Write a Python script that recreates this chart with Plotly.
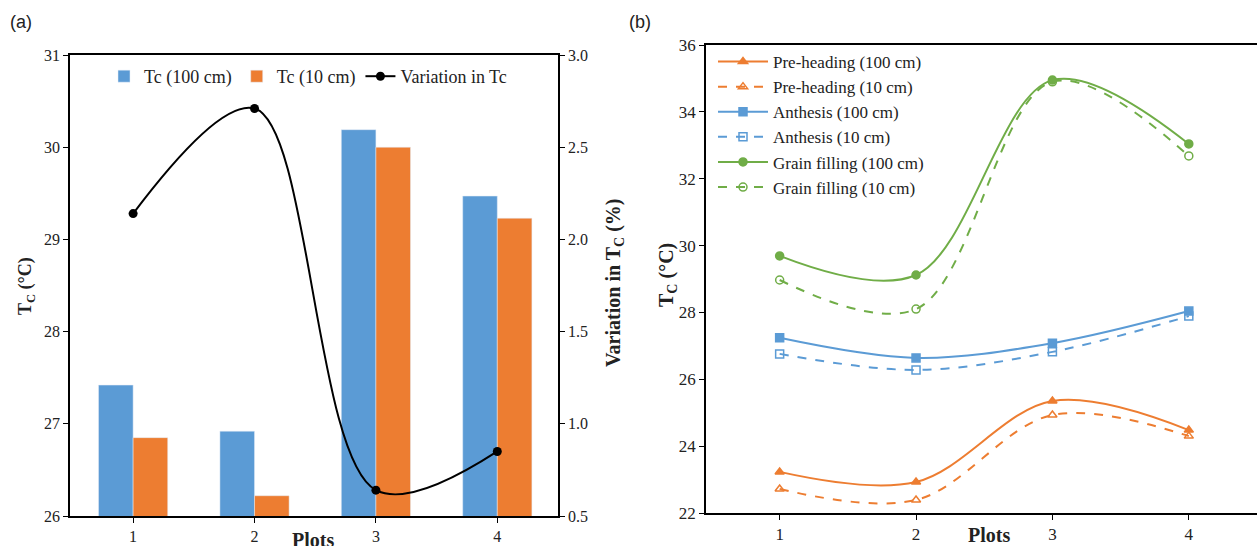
import plotly.graph_objects as go

W, H = 1257, 546

# ---------------- data ----------------
plots = [1, 2, 3, 4]
plot_labels = ["1", "2", "3", "4"]

# panel (a)
tc_100 = [27.42, 26.92, 30.19, 29.47]
tc_10 = [26.85, 26.22, 30.00, 29.23]
variation = [2.14, 2.71, 0.64, 0.85]

# panel (b)
pre_100 = [23.23, 22.93, 25.35, 24.48]
pre_10 = [22.72, 22.39, 24.93, 24.30]
ant_100 = [27.24, 26.64, 27.08, 28.04]
ant_10 = [26.76, 26.28, 26.82, 27.89]
gf_100 = [29.69, 29.12, 34.95, 33.04]
gf_10 = [28.97, 28.10, 34.90, 32.68]

left_ticks_a = [26, 27, 28, 29, 30, 31]
right_ticks_a = [0.5, 1.0, 1.5, 2.0, 2.5, 3.0]
ticks_b = [22, 24, 26, 28, 30, 32, 34, 36]

BLUE = "#5B9BD5"
ORANGE = "#ED7D31"
GREEN = "#70AD47"
SERIF = "Liberation Serif"
SANS = "Liberation Sans"
TICKCOL = "#222222"

def px(x):
    return x / W

def py(y):
    return 1 - y / H

fig = go.Figure()

# ---- panel (a) ----
fig.add_trace(go.Bar(x=plots, y=tc_100, name="Tc (100 cm)", marker_color=BLUE,
                     xaxis="x", yaxis="y", legend="legend"))
fig.add_trace(go.Bar(x=plots, y=tc_10, name="Tc (10 cm)", marker_color=ORANGE,
                     xaxis="x", yaxis="y", legend="legend"))
fig.add_trace(go.Scatter(x=plots, y=variation, name="Variation in Tc",
                         mode="lines+markers",
                         line=dict(color="black", width=2, shape="spline", smoothing=1.0),
                         marker=dict(color="black", size=9),
                         xaxis="x", yaxis="y2", legend="legend"))

# ---- panel (b) ----
series_b = [
    ("Pre-heading (100 cm)", pre_100, ORANGE, "solid", "triangle-up"),
    ("Pre-heading (10 cm)", pre_10, ORANGE, "dash", "triangle-up-open"),
    ("Anthesis (100 cm)", ant_100, BLUE, "solid", "square"),
    ("Anthesis (10 cm)", ant_10, BLUE, "dash", "square-open"),
    ("Grain filling (100 cm)", gf_100, GREEN, "solid", "circle"),
    ("Grain filling (10 cm)", gf_10, GREEN, "dash", "circle-open"),
]
for name, vals, col, dash, sym in series_b:
    fig.add_trace(go.Scatter(x=plots, y=vals, name=name, mode="lines+markers",
                             line=dict(color=col, width=2, dash=dash, shape="spline", smoothing=1.0),
                             marker=dict(color=col, size=8, symbol=sym, line=dict(color=col, width=1.5)),
                             xaxis="x2", yaxis="y3", legend="legend2"))

def axis_common(size):
    return dict(showline=True, linecolor="black", linewidth=1.5, ticks="outside",
                ticklen=5, tickcolor="black", showgrid=False, zeroline=False,
                tickfont=dict(family=SERIF, size=size, color=TICKCOL))

fig.update_layout(
    width=W, height=H,
    margin=dict(l=0, r=0, t=0, b=0, autoexpand=False),
    paper_bgcolor="white", plot_bgcolor="white",
    barmode="group", bargap=0.43, bargroupgap=0,
    xaxis=dict(domain=[px(70), px(558)], range=[0.48, 4.5], anchor="y",
               tickvals=plots, ticktext=plot_labels, mirror=True, **axis_common(16)),
    yaxis=dict(domain=[py(516), py(55)], range=[26, 31], anchor="x",
               tickvals=left_ticks_a, **axis_common(16)),
    yaxis2=dict(overlaying="y", side="right", anchor="x", range=[0.5, 3.0],
                tickvals=right_ticks_a, ticktext=[f"{v:.1f}" for v in right_ticks_a],
                **axis_common(16)),
    xaxis2=dict(domain=[px(706), 1.0], range=[0.46, 4.5], anchor="y3",
                tickvals=plots, ticktext=plot_labels, mirror=True, **axis_common(17)),
    yaxis3=dict(domain=[py(513), py(45)], range=[22, 36], anchor="x2",
                tickvals=ticks_b, **axis_common(17)),
    legend=dict(orientation="h", x=px(104), y=py(58), xanchor="left", yanchor="top",
                font=dict(family=SERIF, size=18, color="#222"), bgcolor="rgba(0,0,0,0)",
                itemwidth=30),
    legend2=dict(orientation="v", x=px(713), y=py(44), xanchor="left", yanchor="top",
                 font=dict(family=SERIF, size=17, color="#222"), bgcolor="rgba(0,0,0,0)",
                 itemwidth=50, tracegroupgap=0),
    showlegend=True,
)

annotations = [
    dict(text="(a)", x=px(8), y=py(22), xanchor="left", yanchor="middle",
         font=dict(family=SANS, size=18, color="#222")),
    dict(text="(b)", x=px(627), y=py(22), xanchor="left", yanchor="middle",
         font=dict(family=SANS, size=18, color="#222")),
    dict(text="<b>T<sub>C</sub> (°C)</b>", x=px(26), y=py(286), textangle=-90,
         xanchor="center", yanchor="middle", font=dict(family=SERIF, size=18, color="#222")),
    dict(text="<b>Variation in T<sub>C</sub> (%)</b>", x=px(614), y=py(283), textangle=-90,
         xanchor="center", yanchor="middle", font=dict(family=SERIF, size=20, color="#222")),
    dict(text="<b>Plots</b>", x=px(313), y=py(540), xanchor="center", yanchor="middle",
         font=dict(family=SERIF, size=20, color="#222")),
    dict(text="<b>T<sub>C</sub> (°C)</b>", x=px(667), y=py(275), textangle=-90,
         xanchor="center", yanchor="middle", font=dict(family=SERIF, size=20, color="#222")),
    dict(text="<b>Plots</b>", x=px(989), y=py(535), xanchor="center", yanchor="middle",
         font=dict(family=SERIF, size=20, color="#222")),
]
for a in annotations:
    a.update(xref="paper", yref="paper", showarrow=False)
fig.update_layout(annotations=annotations)

fig.write_html("out.html", config={"displayModeBar": False},
               post_script="document.body.style.margin='0';document.body.style.padding='0';")
